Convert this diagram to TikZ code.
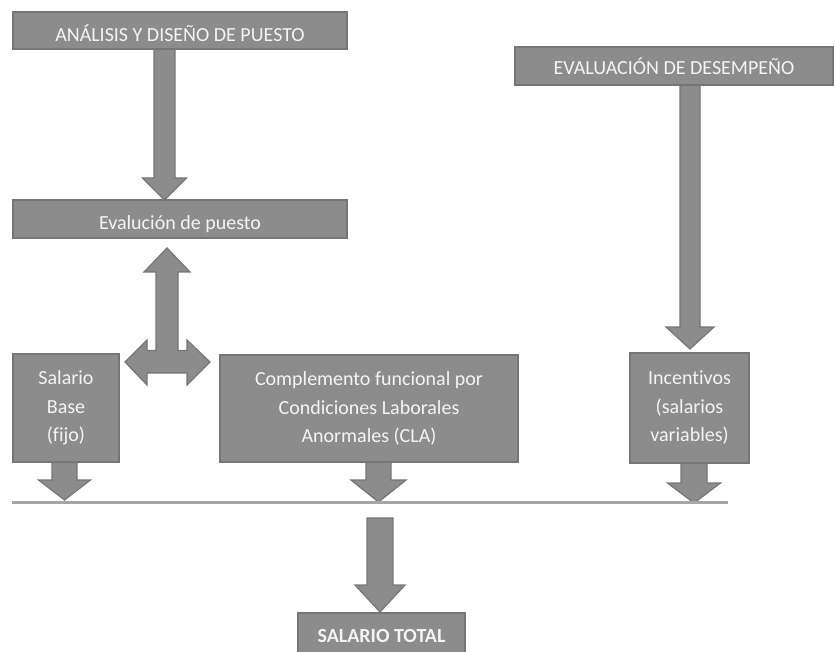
\documentclass[tikz,border=0pt]{standalone}
\usepackage{fontspec}
\setmainfont[Ligatures=NoCommon]{Carlito}
\definecolor{boxfill}{HTML}{8C8C8C}
\definecolor{boxline}{HTML}{767676}
\definecolor{txt}{HTML}{F4F4F4}
\definecolor{rule}{HTML}{A6A6A6}
\tikzset{
  box/.style={fill=boxfill, draw=boxline, line width=1.2pt, text=txt, inner sep=0pt, align=center,
    font=\fontsize{20}{28.5}\selectfont},
  blockarrow/.style={fill=boxfill, draw=boxline, line width=1.2pt, line join=miter}
}
% cx, ytop, ytip, half shaft, half head, head length
\newcommand{\downblock}[6]{%
  \filldraw[blockarrow] ({#1-#4},#2) -- ({#1+#4},#2) -- ({#1+#4},{#3-#6}) -- ({#1+#5},{#3-#6})
   -- (#1,#3) -- ({#1-#5},{#3-#6}) -- ({#1-#4},{#3-#6}) -- cycle;}
\begin{document}
\begin{tikzpicture}[x=1pt,y=-1pt]
\useasboundingbox (0,0) rectangle (835,652);
% boxes
\node[box, minimum width=334pt, minimum height=37pt, text height=27pt, text depth=4pt] (analisis) at (180,30.5) {ANÁLISIS Y DISEÑO DE PUESTO};
\node[box, minimum width=334pt, minimum height=38pt, text height=26pt, text depth=4pt] (evalpuesto) at (180,219) {Evalución de puesto};
\node[box, minimum width=318pt, minimum height=38pt, text height=22pt, text depth=4pt] (desemp) at (674,66) {EVALUACIÓN DE DESEMPEÑO};
\node[box, minimum width=106pt, minimum height=108pt] (base) at (66,408) {Salario\\Base\\(fijo)};
\node[box, minimum width=298pt, minimum height=107pt] (comp) at (369,408.5) {Complemento funcional por\\Condiciones Laborales\\Anormales (CLA)};
\node[box, minimum width=119pt, minimum height=110pt] (inc) at (689.5,408) {Incentivos\\(salarios\\variables)};
\node[box, minimum width=167pt, minimum height=40pt, text height=22pt, text depth=4pt, font=\fontsize{20}{24}\selectfont\bfseries] (total) at (381.5,633) {SALARIO TOTAL};
% block arrows
\downblock{164.5}{49.6}{200}{10.5}{22}{22}
\downblock{690}{85.6}{349}{10}{24}{22}
\downblock{64.5}{462.6}{500}{12.5}{26}{20}
\downblock{378.5}{462.6}{502}{12.5}{27.5}{22}
\downblock{694}{463.6}{503}{13}{26.5}{20}
\downblock{380}{518}{612}{13}{25}{27}
% three-headed arrow
\filldraw[blockarrow] (167,248) -- (190,272) -- (178,272) -- (178,350.5) -- (187,350.5) -- (187,340)
  -- (210,362) -- (187,385) -- (187,373) -- (147,373) -- (147,385) -- (125,362) -- (147,340)
  -- (147,350.5) -- (156,350.5) -- (156,272) -- (144,272) -- cycle;
% summing rule
\coordinate (ruleL) at (12,502);
\coordinate (ruleR) at (728,502);
\draw[rule, line width=3pt] (ruleL) -- (ruleR);
\end{tikzpicture}
\end{document}
